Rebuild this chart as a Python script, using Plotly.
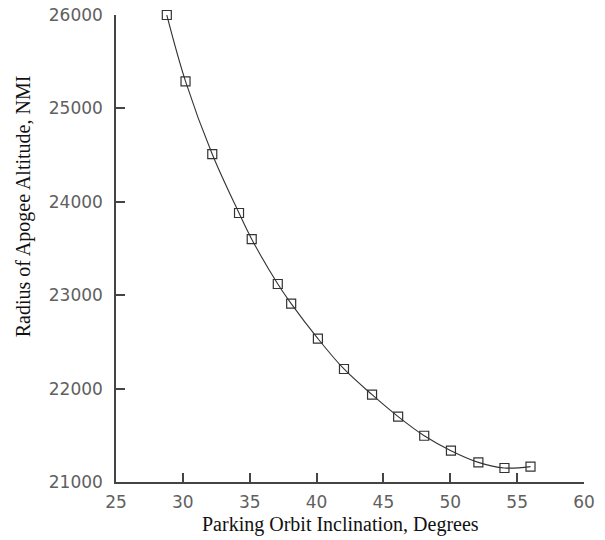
import plotly.graph_objects as go

inclination_deg = [28.8, 30.2, 32.2, 34.2, 35.15, 37.1, 38.1, 40.1, 42.05, 44.15,
                   46.1, 48.05, 50.05, 52.1, 54.05, 56.0]
apogee_radius_nmi = [26000, 25290, 24510, 23880, 23600, 23120, 22910, 22535, 22210, 21935,
                     21700, 21495, 21335, 21210, 21150, 21165]

x_ticks = [25, 30, 35, 40, 45, 50, 55, 60]
y_ticks = [21000, 22000, 23000, 24000, 25000, 26000]

x_title = "Parking Orbit Inclination, Degrees"
y_title = "Radius of Apogee Altitude, NMI"

fig = go.Figure()
fig.add_trace(go.Scatter(
    x=inclination_deg, y=apogee_radius_nmi,
    mode="lines+markers",
    line=dict(shape="spline", smoothing=1.0, color="#333333", width=1.1),
    marker=dict(symbol="square-open", size=9, color="#333333", line=dict(width=1.2, color="#333333")),
    showlegend=False,
    cliponaxis=False,
))

tick_font = dict(family="DejaVu Sans", size=17, color="#606060")
title_font = dict(family="Liberation Serif, Times New Roman, serif", size=20, color="#111111")

fig.update_layout(
    width=605, height=540,
    margin=dict(l=116, r=21, t=15, b=58),
    paper_bgcolor="white", plot_bgcolor="white",
    xaxis=dict(
        range=[25, 60], tickvals=x_ticks, ticktext=[str(v) for v in x_ticks],
        showgrid=False, zeroline=False, automargin=False,
        showline=True, linecolor="#444444", linewidth=1.5,
        ticks="inside", ticklen=9, tickwidth=1.5, tickcolor="#444444",
        tickfont=tick_font, ticklabelstandoff=4,
    ),
    yaxis=dict(
        range=[21000, 26000], tickvals=y_ticks, ticktext=[str(v) for v in y_ticks],
        showgrid=False, zeroline=False, automargin=False,
        showline=True, linecolor="#444444", linewidth=1.5,
        ticks="inside", ticklen=9, tickwidth=1.5, tickcolor="#444444",
        tickfont=tick_font, ticklabelstandoff=8,
    ),
    annotations=[
        dict(text=x_title, font=title_font, showarrow=False,
             xref="paper", yref="paper", x=(340.5 - 116) / 468, y=-(525 - 482.5) / 467.5,
             xanchor="center", yanchor="middle"),
        dict(text=y_title, font=title_font, showarrow=False, textangle=-90,
             xref="paper", yref="paper", x=-(116 - 23) / 468, y=(482.5 - 206.5) / 467.5,
             xanchor="center", yanchor="middle"),
    ],
)

fig.write_html("out.html")
